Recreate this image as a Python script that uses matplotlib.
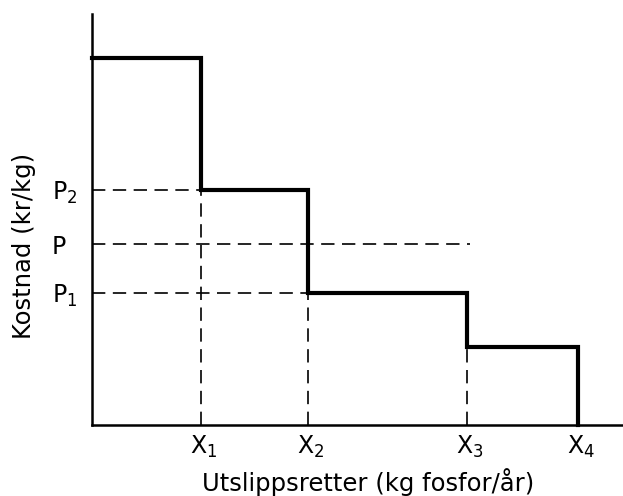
import matplotlib
matplotlib.use("Agg")
import matplotlib.pyplot as plt
import matplotlib.transforms as mtransforms

# Step positions (x edges) and cost levels (abstract units)
x_edges = [0, 109, 216, 375, 486]
levels = [367, 235, 132, 78]
x_tick_labels = ["X$_1$", "X$_2$", "X$_3$", "X$_4$"]
p_values = [235, 181, 132]
p_labels = ["P$_2$", "P", "P$_1$"]
p_line_end = [109, 378, 216]

plt.rcParams['font.family'] = ['DejaVu Sans']
plt.rcParams['mathtext.fontset'] = 'dejavusans'

fig = plt.figure(figsize=(6.23, 4.96), dpi=100)
W, H = 623, 496
ax = fig.add_axes([92 / W, (H - 425) / H, (W - 92) / W, (425 - 14) / H])
ax.set_xlim(0, 531)
ax.set_ylim(0, 411)

# step function
xs, ys = [], []
for i, lv in enumerate(levels):
    xs += [x_edges[i], x_edges[i + 1]]
    ys += [lv, lv]
xs.append(x_edges[-1]); ys.append(0)
ax.plot(xs, ys, color='black', lw=3.0, solid_joinstyle='miter', clip_on=False)

dash = dict(color='black', lw=1.2, dashes=(8, 4.5))
# horizontal dashed lines
for pv, pe in zip(p_values, p_line_end):
    ax.plot([0, pe], [pv, pv], **dash)
# vertical dashed lines
ax.plot([x_edges[1]] * 2, [0, levels[1]], **dash)
ax.plot([x_edges[2]] * 2, [0, levels[2]], **dash)
ax.plot([x_edges[3]] * 2, [0, levels[3]], **dash)

for s in ['top', 'right']:
    ax.spines[s].set_visible(False)
for s in ['left', 'bottom']:
    ax.spines[s].set_linewidth(1.8)

ax.set_xticks(x_edges[1:])
ax.set_xticklabels(x_tick_labels, fontsize=17)
ax.set_yticks(p_values)
ax.set_yticklabels(p_labels, fontsize=17)
ax.tick_params(length=0)
ax.tick_params(axis='x', pad=6)
ax.tick_params(axis='y', pad=29)
for lab in ax.get_yticklabels():
    lab.set_ha('left')
offset = mtransforms.ScaledTranslation(-8 / 72, 0, fig.dpi_scale_trans)
for lab in ax.get_xticklabels():
    lab.set_ha('left')
    lab.set_transform(lab.get_transform() + offset)

ax.set_xlabel("Utslippsretter (kg fosfor/år)", fontsize=17.5, va='baseline')
ax.xaxis.set_label_coords((368 - 92) / 531, -(491 - 425) / 411)
ax.set_ylabel("Kostnad (kr/kg)", fontsize=17.5)
ax.yaxis.set_label_coords(-(92 - 36) / 531, (425 - 246) / 411)

fig.savefig("out.png", dpi=100)
